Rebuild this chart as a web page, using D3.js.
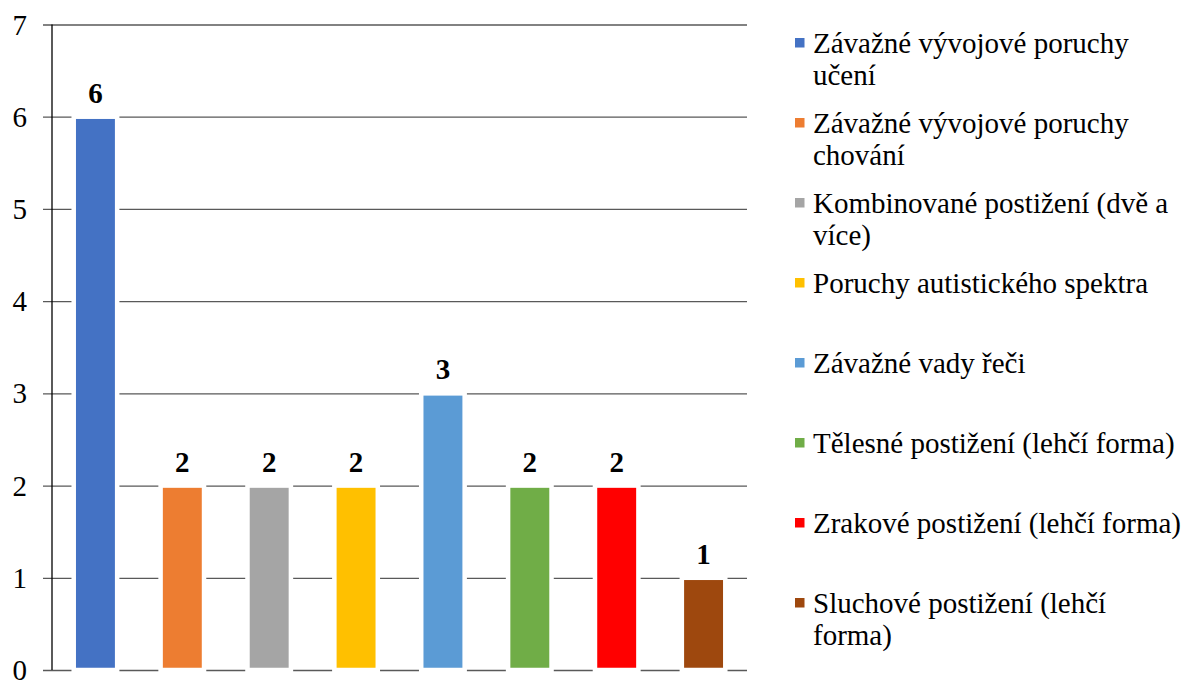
<!DOCTYPE html>
<html>
<head>
<meta charset="utf-8">
<script src="https://cdn.jsdelivr.net/npm/d3@7"></script>
<style>
  html, body { margin: 0; padding: 0; background: #fff; }
  svg { display: block; }
</style>
</head>
<body>
<svg id="chart" width="1186" height="680"></svg>
<script>
// Categories (legend lines pre-split for wrapping)
const categories = [
  "Závažné vývojové poruchy učení",
  "Závažné vývojové poruchy chování",
  "Kombinované postižení (dvě a více)",
  "Poruchy autistického spektra",
  "Závažné vady řeči",
  "Tělesné postižení (lehčí forma)",
  "Zrakové postižení (lehčí forma)",
  "Sluchové postižení (lehčí forma)"
];
const legendLines = [
  ["Závažné vývojové poruchy", "učení"],
  ["Závažné vývojové poruchy", "chování"],
  ["Kombinované postižení (dvě a", "více)"],
  ["Poruchy autistického spektra"],
  ["Závažné vady řeči"],
  ["Tělesné postižení (lehčí forma)"],
  ["Zrakové postižení (lehčí forma)"],
  ["Sluchové postižení (lehčí", "forma)"]
];
const values = [6, 2, 2, 2, 3, 2, 2, 1];
const colors = ["#4472C4", "#ED7D31", "#A5A5A5", "#FFC000", "#5B9BD5", "#70AD47", "#FF0000", "#9E480E"];
const yTicks = [0, 1, 2, 3, 4, 5, 6, 7];

const FONT = "Liberation Serif";
const FS = 29;

const svg = d3.select("#chart");
const plot = { left: 52, right: 747, top: 24.5, bottom: 670 };

const x = d3.scaleBand()
  .domain(categories)
  .range([plot.left, plot.right])
  .paddingInner(0.5)
  .paddingOuter(0.25);

const y = d3.scaleLinear()
  .domain([0, 7])
  .range([plot.bottom, plot.top]);

// Horizontal gridlines with outward tick marks
const yAxis = d3.axisLeft(y)
  .tickValues(yTicks)
  .tickSize(-(plot.right - plot.left))
  .tickSizeOuter(0)
  .tickPadding(0)
  .tickFormat(d3.format("d"));

const gy = svg.append("g")
  .attr("transform", `translate(${plot.left},0)`)
  .call(yAxis)
  .attr("font-family", FONT)
  .attr("font-size", FS);
gy.select(".domain").remove();
gy.selectAll(".tick line")
  .attr("x1", -9)
  .attr("stroke", "#595959")
  .attr("stroke-width", 1.3);
gy.selectAll(".tick text")
  .attr("x", -25)
  .attr("dy", "0.33em")
  .attr("text-anchor", "end")
  .attr("font-family", FONT)
  .attr("font-size", FS)
  .attr("fill", "#000");

// Bars with white outline
svg.append("g")
  .selectAll("rect")
  .data(values)
  .join("rect")
  .attr("x", (d, i) => x(categories[i]))
  .attr("y", d => y(d))
  .attr("width", x.bandwidth())
  .attr("height", d => y(0) - y(d))
  .attr("fill", (d, i) => colors[i])
  .attr("stroke", "#fff")
  .attr("stroke-width", 4.5);

// Vertical axis line
svg.append("line")
  .attr("x1", plot.left).attr("x2", plot.left)
  .attr("y1", plot.top).attr("y2", plot.bottom)
  .attr("stroke", "#000")
  .attr("stroke-width", 1.3);

// Value labels
svg.append("g")
  .selectAll("text")
  .data(values)
  .join("text")
  .attr("x", (d, i) => x(categories[i]) + x.bandwidth() / 2)
  .attr("y", d => y(d) - 14)
  .attr("text-anchor", "middle")
  .attr("font-family", FONT)
  .attr("font-size", FS)
  .attr("font-weight", "bold")
  .text(d => d);

// Legend
const legend = svg.append("g");
const item = legend.selectAll("g")
  .data(legendLines)
  .join("g")
  .attr("transform", (d, i) => `translate(0,${53 + i * 80})`);
item.append("rect")
  .attr("x", 795)
  .attr("y", -15)
  .attr("width", 9.5)
  .attr("height", 9.5)
  .attr("fill", (d, i) => colors[i]);
item.append("text")
  .attr("x", 813)
  .attr("font-family", FONT)
  .attr("font-size", FS)
  .attr("fill", "#000")
  .selectAll("tspan")
  .data(d => d)
  .join("tspan")
  .attr("x", 813)
  .attr("dy", (d, j) => j === 0 ? 0 : 32)
  .text(d => d);
</script>
</body>
</html>
